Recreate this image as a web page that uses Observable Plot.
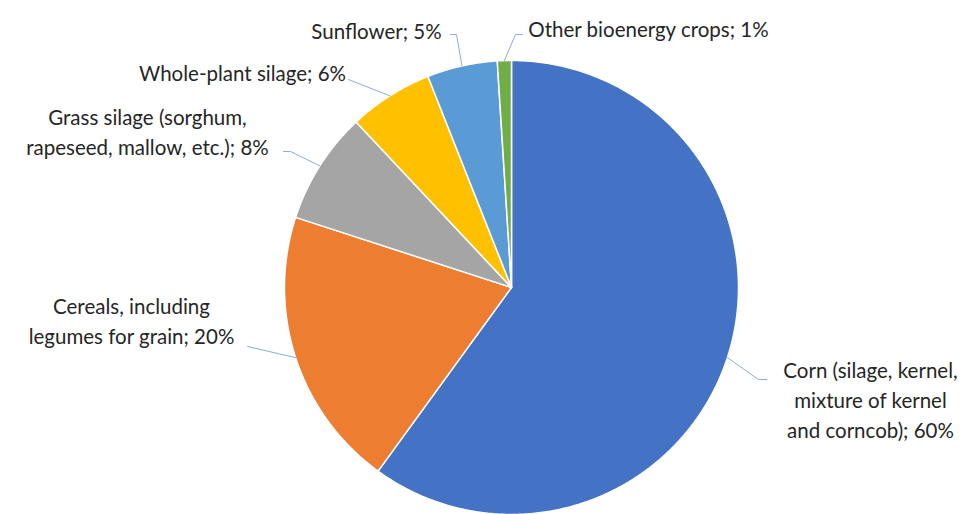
<!DOCTYPE html>
<html>
<head>
<meta charset="utf-8">
<script src="https://cdn.jsdelivr.net/npm/d3@7"></script>
<script src="https://cdn.jsdelivr.net/npm/@observablehq/plot@0.6"></script>
<style>
  html, body { margin: 0; padding: 0; background: #fff; }
  #chart { width: 971px; height: 514px; }
</style>
</head>
<body>
<div id="chart"></div>
<script>
// ---- data ----
const categories = [
  "Corn (silage, kernel,\nmixture of kernel\nand corncob)",
  "Cereals, including\nlegumes for grain",
  "Grass silage (sorghum,\nrapeseed, mallow, etc.)",
  "Whole-plant silage",
  "Sunflower",
  "Other bioenergy crops"
];
const shares = [60, 20, 8, 6, 5, 1];
const colors = ["#4472C4", "#ED7D31", "#A5A5A5", "#FFC000", "#5B9BD5", "#70AD47"];

// ---- layout (label centres and leader anchors, pixel space) ----
const cx = 511, cy = 287, R = 227;
const labelPos = [
  {x: 870, y: 398, lx: 766, ly: 379, ex: 758, ey: 379},
  {x: 131, y: 319, lx: 247, ly: 346, ex: 247, ey: 346},
  {x: 147, y: 130, lx: 283, ly: 151, ex: 290, ey: 151},
  {x: 242, y: 71,  lx: 348, ly: 79,  ex: 348, ey: 79},
  {x: 376, y: 29,  lx: 450, ly: 34,  ex: 456, ey: 34},
  {x: 648, y: 27,  lx: 522, ly: 34,  ex: 515, ey: 34}
];

const pie = d3.pie().sort(null).value(d => d)(shares);
const pt = (a, r) => ({x: cx + r * Math.sin(a), y: cy - r * Math.cos(a)});

const sliceMarks = pie.map((p, i) => {
  const pts = [pt(0, 0)];
  const n = Math.max(2, Math.ceil((p.endAngle - p.startAngle) / (Math.PI / 360)));
  for (let k = 0; k <= n; k++) {
    pts.push(pt(p.startAngle + (p.endAngle - p.startAngle) * k / n, R));
  }
  return Plot.line(pts, {x: "x", y: "y", fill: colors[i], stroke: "white", strokeWidth: 1.5, curve: "linear-closed"});
});

const leaders = pie.map((p, i) => {
  const L = labelPos[i];
  const m = pt((p.startAngle + p.endAngle) / 2, R);
  return [{x: L.lx, y: L.ly, i}, {x: L.ex, y: L.ey, i}, {x: m.x, y: m.y, i}];
}).flat();

const labels = categories.map((c, i) => ({text: `${c}; ${shares[i]}%`, x: labelPos[i].x, y: labelPos[i].y}));

const chart = Plot.plot({
  width: 971,
  height: 514,
  margin: 0,
  x: {domain: [0, 971], range: [0, 971], axis: null},
  y: {domain: [0, 514], range: [0, 514], axis: null},
  style: {fontFamily: "Lato, 'Open Sans', sans-serif", background: "white"},
  marks: [
    ...sliceMarks,
    Plot.line(leaders, {x: "x", y: "y", z: "i", stroke: "#8FAADC", strokeWidth: 1}),
    Plot.text(labels, {x: "x", y: "y", text: "text", fontSize: 20.5, lineHeight: 1.46, textAnchor: "middle", lineAnchor: "middle", fill: "#262626"})
  ]
});
document.getElementById("chart").appendChild(chart);
</script>
</body>
</html>
